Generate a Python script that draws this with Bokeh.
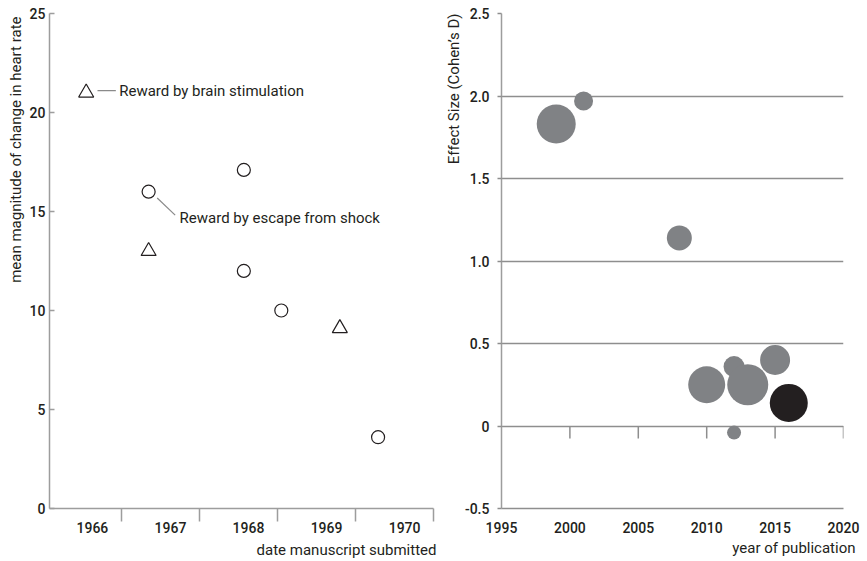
from bokeh.embed import file_html
from bokeh.layouts import row
from bokeh.models import FixedTicker, Label, Title
from bokeh.plotting import figure
from bokeh.resources import INLINE

# ---------------- left panel: heart-rate change vs. submission date ----------------
shock_year = [1967.35, 1968.57, 1968.57, 1969.05, 1970.29]
shock_hr = [16.0, 17.1, 12.0, 10.0, 3.6]
brain_year = [1966.55, 1967.35, 1969.80]
brain_hr = [21.0, 13.0, 9.1]
year_labels = ["1966", "1967", "1968", "1969", "1970"]
hr_ticks = [0, 5, 10, 15, 20, 25]

brain_note = "Reward by brain stimulation"
shock_note = "Reward by escape from shock"

# ---------------- right panel: effect size vs. publication year ----------------
pub_year = [1999, 2001, 2008, 2010, 2012, 2013, 2015, 2016, 2012]
effect_d = [1.83, 1.97, 1.14, 0.25, 0.36, 0.25, 0.40, 0.14, -0.04]
bubble_px = [39, 19, 25, 37, 21, 41, 30, 38, 14]
highlight = [False, False, False, False, False, False, False, True, False]
pub_ticks = [1995, 2000, 2005, 2010, 2015, 2020]
d_ticks = [-0.5, 0, 0.5, 1.0, 1.5, 2.0, 2.5]
d_tick_labels = ["-0.5", "0", "0.5", "1.0", "1.5", "2.0", "2.5"]

FONT = "Roboto"
TICK_FONT = "Roboto Medium, Roboto"
INK = "#231f20"
AXIS_GREY = "#9d9d9d"
GRID_GREY = "#8e8e8e"
BUBBLE_GREY = "#808285"
BUBBLE_DARK = "#231f20"
TICK_SIZE = "14px"
TEXT_SIZE = "15px"


def style_axis(ax):
    ax.axis_line_color = AXIS_GREY
    ax.axis_line_width = 1.5
    ax.major_tick_line_color = AXIS_GREY
    ax.major_tick_line_width = 1.5
    ax.major_label_text_font = TICK_FONT
    ax.major_label_text_font_size = TICK_SIZE
    ax.major_label_text_color = INK


def axis_title(p, text, side, offset, standoff):
    """Axis caption pushed to the far end of the axis (right / top)."""
    p.add_layout(Title(text=text, align="right", offset=offset, standoff=standoff,
                       text_font=FONT, text_font_size=TEXT_SIZE,
                       text_font_style="normal", text_color=INK), side)


# ---- left figure ----
p1 = figure(width=440, height=561, title=None,
            x_range=(1966.08, 1971.0), y_range=(0, 25),
            output_backend="svg", toolbar_location=None,
            min_border_left=49, min_border_right=7,
            min_border_top=12, min_border_bottom=52)
p1.outline_line_color = None
p1.grid.visible = False

# year labels sit inside each year; year boundaries carry the tick marks
label_pos = [int(y) + 0.63 for y in year_labels]
boundaries = [int(y) + 1 for y in year_labels]
xa = p1.xaxis[0]
xa.ticker = FixedTicker(ticks=label_pos, minor_ticks=boundaries)
xa.major_label_overrides = {pos: lbl for pos, lbl in zip(label_pos, year_labels)}
style_axis(xa)
xa.major_tick_in = 0
xa.major_tick_out = 0
xa.minor_tick_in = 0
xa.minor_tick_out = 13
xa.minor_tick_line_color = AXIS_GREY
xa.minor_tick_line_width = 1.5
xa.major_label_standoff = 0

ya = p1.yaxis[0]
ya.ticker = FixedTicker(ticks=hr_ticks)
style_axis(ya)
ya.major_tick_in = 5
ya.major_tick_out = 0
ya.minor_tick_line_color = None
ya.major_label_standoff = 4

p1.scatter(shock_year, shock_hr, marker="circle", size=13,
           fill_color="white", line_color=INK, line_width=1.2)
p1.scatter(brain_year, brain_hr, marker="triangle", size=15,
           fill_color="white", line_color=INK, line_width=1.2)

# callout leaders and their texts
p1.segment(x0=[brain_year[0] + 0.145, shock_year[0] + 0.11],
           y0=[brain_hr[0] + 0.1, shock_hr[0] - 0.32],
           x1=[brain_year[0] + 0.38, shock_year[0] + 0.34],
           y1=[brain_hr[0] + 0.1, shock_hr[0] - 1.18],
           line_color="#8a8a8a", line_width=1.2)
p1.add_layout(Label(x=brain_year[0], y=brain_hr[0], x_offset=33, y_offset=2,
                    text=brain_note, text_font=FONT, text_font_size=TEXT_SIZE,
                    text_color=INK, text_baseline="middle"))
p1.add_layout(Label(x=shock_year[0], y=shock_hr[0], x_offset=31, y_offset=-26,
                    text=shock_note, text_font=FONT, text_font_size=TEXT_SIZE,
                    text_color=INK, text_baseline="middle"))

axis_title(p1, "date manuscript submitted", "below", -3, 6)
axis_title(p1, "mean magnitude of change in heart rate", "left", 3, 4)

# ---- right figure ----
p2 = figure(width=427, height=561, title=None,
            x_range=(1995, 2020), y_range=(-0.5, 2.5),
            output_backend="svg", toolbar_location=None,
            min_border_left=61, min_border_right=24,
            min_border_top=13, min_border_bottom=52)
p2.outline_line_color = None
p2.xgrid.visible = False
p2.ygrid.ticker = FixedTicker(ticks=d_ticks)
p2.ygrid.grid_line_color = GRID_GREY
p2.ygrid.grid_line_width = 1.4

xb = p2.xaxis[0]
xb.ticker = FixedTicker(ticks=pub_ticks)
style_axis(xb)
xb.axis_line_color = GRID_GREY
xb.major_tick_in = 0
xb.major_tick_out = 0
xb.minor_tick_line_color = None
xb.major_label_standoff = 13

yb = p2.yaxis[0]
yb.ticker = FixedTicker(ticks=d_ticks)
yb.major_label_overrides = {t: s for t, s in zip(d_ticks, d_tick_labels)}
style_axis(yb)
yb.major_tick_line_color = GRID_GREY
yb.major_tick_in = 0
yb.major_tick_out = 4
yb.minor_tick_line_color = None
yb.major_label_standoff = 8

# year ticks hang below the zero line
zero_ticks = pub_ticks[1:]
p2.segment(x0=zero_ticks, y0=[0] * len(zero_ticks), x1=zero_ticks,
           y1=[-0.076] * len(zero_ticks), line_color=GRID_GREY, line_width=1.5)

colors = [BUBBLE_DARK if h else BUBBLE_GREY for h in highlight]
p2.scatter(pub_year, effect_d, marker="circle", size=bubble_px,
           fill_color=colors, line_color=None)

axis_title(p2, "year of publication", "below", -12, 2)
axis_title(p2, "Effect Size (Cohen\u2019s D)", "left", 0, 0)

layout = row(p1, p2)
open("out.html", "w").write(file_html(layout, INLINE))
